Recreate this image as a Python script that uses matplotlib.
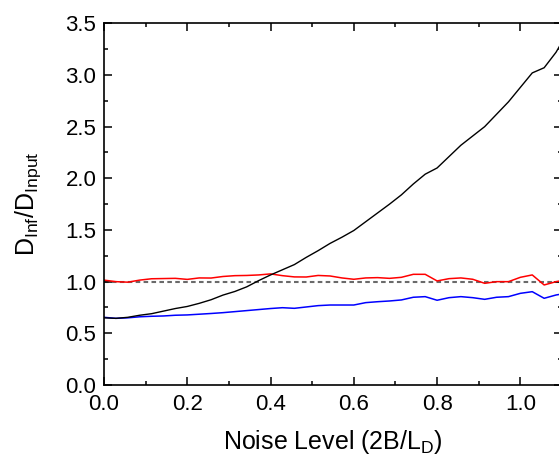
import numpy as np
import matplotlib
matplotlib.use("Agg")
import matplotlib.pyplot as plt
from matplotlib.ticker import MultipleLocator, FormatStrFormatter

plt.rcParams['font.family'] = ['Liberation Sans', 'DejaVu Sans']
plt.rcParams['mathtext.fontset'] = 'custom'
plt.rcParams['mathtext.rm'] = 'Liberation Sans'

noise_level = [i / 35 for i in range(40)]

d_black = [0.65, 0.645, 0.655, 0.675, 0.69, 0.715, 0.74, 0.76, 0.79, 0.825,
           0.87, 0.905, 0.95, 1.01, 1.065, 1.115, 1.165, 1.235, 1.30, 1.37,
           1.43, 1.495, 1.58, 1.665, 1.75, 1.84, 1.945, 2.04, 2.10, 2.21,
           2.32, 2.41, 2.50, 2.62, 2.74, 2.88, 3.02, 3.07, 3.22, 3.42]

d_red = [1.015, 1.0, 0.995, 1.015, 1.028, 1.03, 1.032, 1.022, 1.036, 1.035,
         1.05, 1.058, 1.06, 1.065, 1.075, 1.058, 1.046, 1.045, 1.06, 1.055,
         1.036, 1.023, 1.036, 1.039, 1.032, 1.042, 1.071, 1.071, 1.007, 1.029,
         1.036, 1.023, 0.984, 1.0, 1.0, 1.042, 1.065, 0.968, 1.0, 1.02]

d_blue = [0.655, 0.645, 0.65, 0.66, 0.665, 0.668, 0.675, 0.678, 0.685, 0.692,
          0.70, 0.71, 0.72, 0.73, 0.74, 0.748, 0.742, 0.755, 0.768, 0.774,
          0.774, 0.774, 0.797, 0.806, 0.813, 0.823, 0.849, 0.855, 0.82, 0.845,
          0.855, 0.845, 0.829, 0.849, 0.855, 0.887, 0.903, 0.839, 0.871, 0.89]

reference_level = 1.0

fig = plt.figure(figsize=(5.59, 4.61), dpi=100)
ax = fig.add_axes([104/559, 1 - 385/461, (562 - 104)/559, (385 - 23.3)/461])

ax.axhline(reference_level, color='#6a6a6a', lw=1.5, ls=(0, (2.2, 1.6)), zorder=1)
ax.plot(noise_level, d_black, color='black', lw=1.0, zorder=3)
ax.plot(noise_level, d_red, color='red', lw=1.1, zorder=2)
ax.plot(noise_level, d_blue, color='blue', lw=1.1, zorder=2)

ax.set_xlim(0, 1.1)
ax.set_ylim(0, 3.5)
ax.xaxis.set_major_locator(MultipleLocator(0.2))
ax.xaxis.set_minor_locator(MultipleLocator(0.1))
ax.yaxis.set_major_locator(MultipleLocator(0.5))
ax.yaxis.set_minor_locator(MultipleLocator(0.25))
ax.xaxis.set_major_formatter(FormatStrFormatter('%.1f'))
ax.yaxis.set_major_formatter(FormatStrFormatter('%.1f'))

ax.tick_params(which='both', direction='in', top=True, right=True, width=1.1)
ax.tick_params(which='major', length=5.5, labelsize=16)
ax.tick_params(axis='x', which='major', pad=6.5)
ax.tick_params(axis='y', which='major', pad=5.5)
ax.tick_params(which='minor', length=3)
for s in ax.spines.values():
    s.set_linewidth(1.2)

ax.set_xlabel('Noise Level (2B/L$\\mathregular{_D}$)', fontsize=18, labelpad=9)
ax.set_ylabel('$\\mathregular{D_{Inf}/D_{Input}}$', fontsize=18, labelpad=16)

fig.savefig('out.png', dpi=100)
